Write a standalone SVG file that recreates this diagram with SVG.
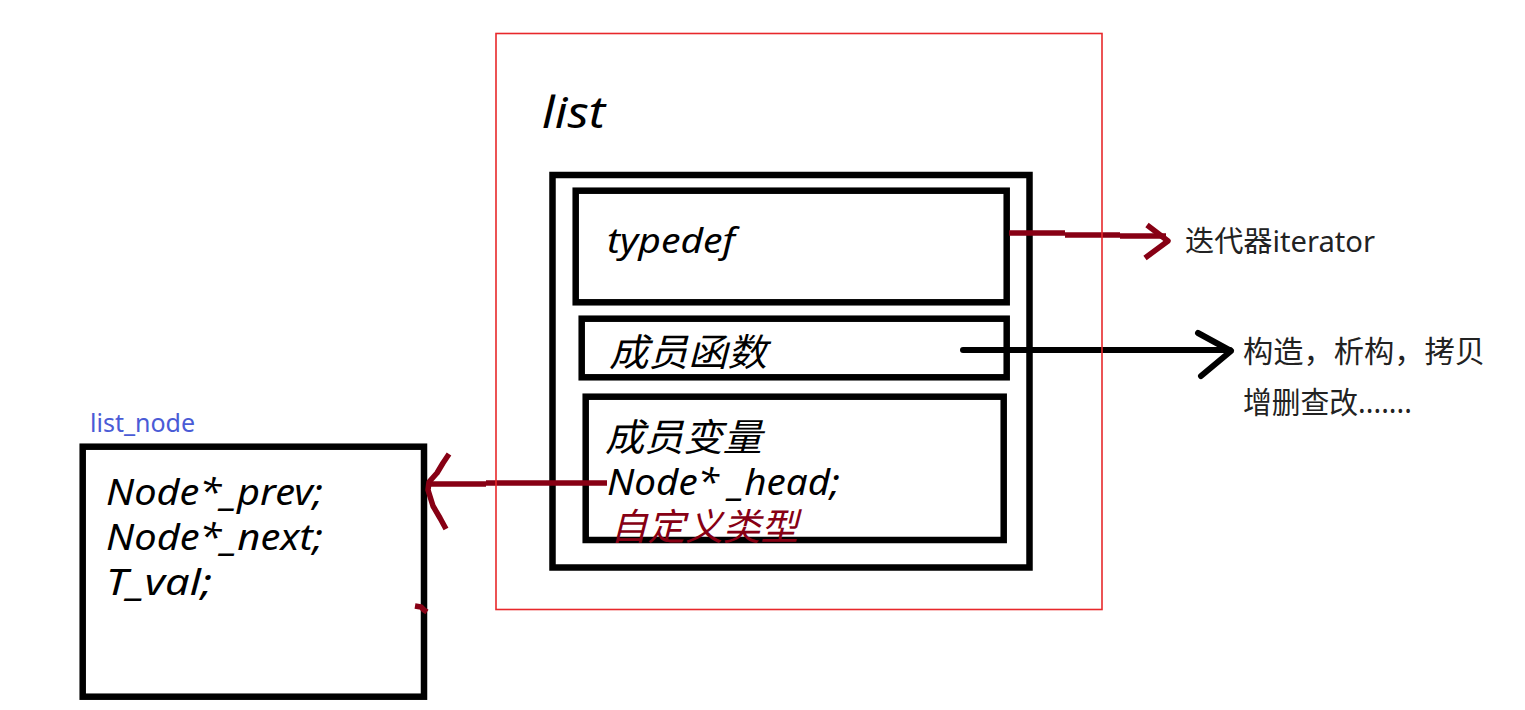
<svg xmlns="http://www.w3.org/2000/svg" width="1525" height="710" viewBox="0 0 1525 710">
<style>
.box{fill:none;stroke:#000;stroke-width:6.5}
.frame{fill:none;stroke:#e8282b;stroke-width:1.6}
.it{font-family:"Noto Sans","Noto Sans CJK SC",sans-serif;font-style:italic;fill:#000}
.rg{font-family:"Noto Sans","Noto Sans CJK SC",sans-serif;fill:#222}
.red{stroke:#870014;fill:none;stroke-width:5.5;stroke-linecap:butt;stroke-linejoin:round}
.blk{stroke:#000;fill:none;stroke-width:6;stroke-linecap:round;stroke-linejoin:round}
</style>
<rect width="1525" height="710" fill="#fff"/>
<g id="list">
<text class="it" x="542" y="128" font-size="44" textLength="63" lengthAdjust="spacingAndGlyphs">list</text>
<rect class="box" x="552.5" y="175" width="477" height="392.5"/>
</g>
<g id="typedef">
<rect class="box" x="575.7" y="190.7" width="431" height="111.6"/>
<text class="it" x="607" y="253" font-size="34" textLength="128" lengthAdjust="spacingAndGlyphs">typedef</text>
</g>
<g id="member_functions">
<rect class="box" x="581.7" y="318.7" width="425" height="58.6"/>
<text class="it" x="609" y="366" font-size="38" textLength="158" lengthAdjust="spacingAndGlyphs">成员函数</text>
</g>
<g id="member_variables">
<rect class="box" x="585.7" y="396.7" width="418" height="143.3"/>
<text class="it" x="605" y="451" font-size="38" textLength="157" lengthAdjust="spacingAndGlyphs">成员变量</text>
<text class="it" x="607" y="495" font-size="36" textLength="233" lengthAdjust="spacingAndGlyphs">Node* _head;</text>
<text class="it" x="610" y="540" font-size="37" textLength="188" lengthAdjust="spacingAndGlyphs" style="fill:#870014">自定义类型</text>
</g>
<g id="list_node">
<text class="rg" x="90" y="432" font-size="25" style="fill:#4a5bd6">list_node</text>
<rect class="box" x="82.7" y="446.7" width="341.3" height="250"/>
<text class="it" x="106" y="505" font-size="36" textLength="217" lengthAdjust="spacingAndGlyphs">Node*_prev;</text>
<text class="it" x="106" y="550" font-size="36" textLength="217" lengthAdjust="spacingAndGlyphs">Node*_next;</text>
<text class="it" x="106" y="595" font-size="36" textLength="106" lengthAdjust="spacingAndGlyphs">T_val;</text>
</g>
<g id="iterator_label">
<text class="rg" x="1185" y="252" font-size="29" textLength="190" lengthAdjust="spacingAndGlyphs">迭代器iterator</text>
</g>
<g id="functions_label">
<text class="rg" x="1243" y="362" font-size="30" textLength="242" lengthAdjust="spacingAndGlyphs">构造，析构，拷贝</text>
<text class="rg" x="1243" y="413" font-size="30" textLength="169" lengthAdjust="spacingAndGlyphs">增删查改.......</text>
</g>
<g id="connectors">
<path class="red" d="M1009,233 H1065 M1065,235 H1120 M1120,236 H1166"/>
<path class="red" d="M1147,225 L1168,241 L1145,258"/>
<path class="blk" d="M963,350 H1230"/>
<path class="blk" d="M1198,333 L1231,351 L1201,376"/>
<path class="red" d="M607,483 H486 M486,484 H428"/>
<path class="red" stroke-width="4.5" d="M449,454 L443,463 L437,473 L429,482 L428,490 L433,506 L440,518 L446,529"/>
<path class="red" stroke-width="1.5" d="M415,606 L421,607 L424,610 L427,612"/>
</g>
<rect class="frame" x="496" y="33.5" width="606" height="576"/>
</svg>
